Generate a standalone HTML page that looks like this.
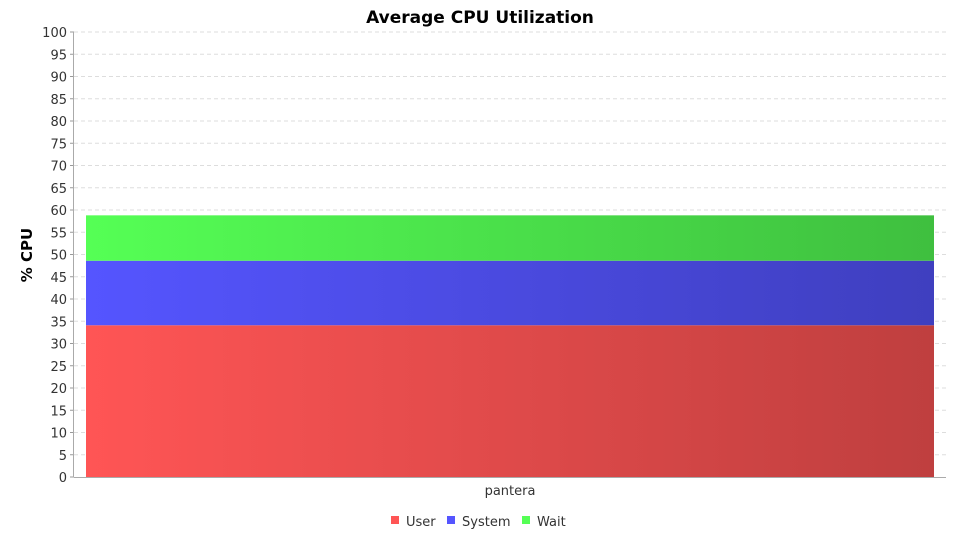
<!DOCTYPE html>
<html><head><meta charset="utf-8"><style>
html,body{margin:0;padding:0;background:#fff;}
svg{display:block;font-family:"DejaVu Sans","Liberation Sans",sans-serif;}
</style></head><body>
<svg id="chart" width="960" height="540">
<defs>
<linearGradient id="gUser" x1="0" x2="1"><stop offset="0" stop-color="#ff5555"/><stop offset="1" stop-color="#bf3f3f"/></linearGradient>
<linearGradient id="gSystem" x1="0" x2="1"><stop offset="0" stop-color="#5555ff"/><stop offset="1" stop-color="#3f3fbf"/></linearGradient>
<linearGradient id="gWait" x1="0" x2="1"><stop offset="0" stop-color="#55ff55"/><stop offset="1" stop-color="#3fbf3f"/></linearGradient>
</defs>
<text x="480" y="23" text-anchor="middle" font-size="17" font-weight="bold" fill="#000">Average CPU Utilization</text>
<text transform="translate(32,255) rotate(-90)" text-anchor="middle" font-size="15" font-weight="bold" fill="#000">% CPU</text>
<g id="grid"></g><g id="bars"></g><g id="axes"></g>
<g>
<g><rect x="391" y="516" width="8" height="8" fill="#ff5555"/><text x="406" y="526" font-size="13" fill="#333">User</text></g>
<g><rect x="447" y="516" width="8" height="8" fill="#5555ff"/><text x="462" y="526" font-size="13" fill="#333">System</text></g>
<g><rect x="522" y="516" width="8" height="8" fill="#55ff55"/><text x="537" y="526" font-size="13" fill="#333">Wait</text></g>
</g>
</svg>
<script>
const categories = ["pantera"];
const seriesNames = ["User", "System", "Wait"];
const userValues = [34.1];
const systemValues = [14.5];
const waitValues = [10.2];
const yTicks = [0,5,10,15,20,25,30,35,40,45,50,55,60,65,70,75,80,85,90,95,100];

const NS = "http://www.w3.org/2000/svg";
const plotLeft = 74, plotRight = 946, plotTop = 32, plotBottom = 477;
const yMax = 100;
function yPos(v){ return plotBottom - v / yMax * (plotBottom - plotTop); }
const band = (plotRight - plotLeft) / categories.length;
function xStart(i){ return plotLeft + i * band + 12; }
const barW = band - 24;
function mk(tag, attrs, parent){ const e = document.createElementNS(NS, tag); for (const k in attrs) e.setAttribute(k, attrs[k]); parent.appendChild(e); return e; }

const gridG = document.getElementById('grid');
const axesG = document.getElementById('axes');
yTicks.forEach(t => {
  if (t > 0) {
    const g = mk('line', {x1:plotLeft, x2:plotRight, y1:yPos(t), y2:yPos(t), stroke:'#dddddd', 'stroke-dasharray':'4,3'}, gridG);
    
    
  }
  const tk = mk('line', {x1:plotLeft-4, x2:plotLeft, y1:yPos(t), y2:yPos(t), stroke:'#999'}, axesG);
  
  
  const lb = mk('text', {x:plotLeft-7, y:yPos(t)+5, 'text-anchor':'end', 'font-size':'13', fill:'#333'}, axesG);
  lb.textContent = t;
  
  
});
const ya = mk('line', {x1:plotLeft-0.5, x2:plotLeft-0.5, y1:plotTop, y2:plotBottom, stroke:'#aaa'}, axesG);


const xa = mk('line', {x1:plotLeft, x2:plotRight, y1:plotBottom+0.5, y2:plotBottom+0.5, stroke:'#aaa'}, axesG);



const barsG = document.getElementById('bars');
const series = [userValues, systemValues, waitValues];
const fills = ['url(#gUser)', 'url(#gSystem)', 'url(#gWait)'];
categories.forEach((c, i) => {
  let base = 0;
  series.forEach((vals, s) => {
    const v = vals[i];
    const r = mk('rect', {x:xStart(i), y:yPos(base+v), width:barW, height:yPos(base)-yPos(base+v), fill:fills[s]}, barsG);
    
    
    base += v;
  });
  const cl = mk('text', {x:xStart(i)+barW/2, y:plotBottom+18, 'text-anchor':'middle', 'font-size':'13', fill:'#333'}, axesG);
  cl.textContent = c;
  
  
});
</script>
</body></html>
